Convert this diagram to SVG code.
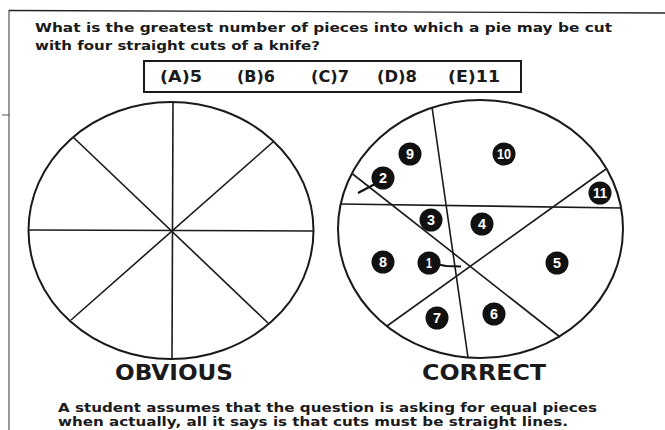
<svg xmlns="http://www.w3.org/2000/svg" width="665" height="430" viewBox="0 0 665 430">
<style>
.t{font-family:"DejaVu Sans","Liberation Sans",Arial,sans-serif;font-weight:bold;fill:#1a1a1a}
.q{font-size:13px}
.opt{font-size:16px}
.cap{font-size:21px}
.body{font-size:13px}
.pie{fill:none;stroke:#1a1a1a;stroke-width:2}
.cut{stroke:#1a1a1a;stroke-width:1.6;fill:none}
.m circle{fill:#111}
.m text{font-family:"Liberation Sans",Arial,sans-serif;font-weight:bold;font-size:14px;fill:#fff;text-anchor:middle}
</style>
<rect width="665" height="430" fill="#fff"/>
<g id="frame">
<line x1="9" y1="10.5" x2="665" y2="13" stroke="#222" stroke-width="1.3"/>
<line x1="9" y1="10" x2="9" y2="430" stroke="#333" stroke-width="1"/>
<line x1="2" y1="115" x2="9" y2="115" stroke="#555" stroke-width="1"/>
</g>
<g id="question">
<text class="t q" x="35" y="32" textLength="577" lengthAdjust="spacingAndGlyphs">What is the greatest number of pieces into which a pie may be cut</text>
<text class="t q" x="35" y="50" textLength="285" lengthAdjust="spacingAndGlyphs">with four straight cuts of a knife?</text>
</g>
<g id="options">
<rect x="144" y="61" width="377" height="31" fill="none" stroke="#1a1a1a" stroke-width="2"/>
<text class="t opt" x="160" y="82" textLength="42" lengthAdjust="spacingAndGlyphs">(A)5</text>
<text class="t opt" x="237" y="82" textLength="38" lengthAdjust="spacingAndGlyphs">(B)6</text>
<text class="t opt" x="311" y="82" textLength="38" lengthAdjust="spacingAndGlyphs">(C)7</text>
<text class="t opt" x="377" y="82" textLength="40" lengthAdjust="spacingAndGlyphs">(D)8</text>
<text class="t opt" x="448" y="82" textLength="52" lengthAdjust="spacingAndGlyphs">(E)11</text>
</g>
<g id="obvious-pie">
<ellipse class="pie" cx="171" cy="230.5" rx="142.5" ry="128.5"/>
<line class="cut" x1="173" y1="102" x2="172" y2="359"/>
<line class="cut" x1="29" y1="230" x2="313" y2="231"/>
<line class="cut" x1="73" y1="137" x2="268" y2="323"/>
<line class="cut" x1="273" y1="142" x2="71" y2="320"/>
</g>
<g id="correct-pie">
<ellipse class="pie" cx="480.5" cy="229" rx="142.5" ry="129"/>
</g>
<g id="connectors">
<line class="cut" x1="432" y1="107" x2="468" y2="357.5"/>
<line class="cut" x1="341" y1="204" x2="622" y2="208"/>
<line class="cut" x1="352" y1="173.5" x2="560" y2="337"/>
<line class="cut" x1="387" y1="326" x2="606" y2="169"/>
<line x1="375" y1="184" x2="358" y2="193" stroke="#111" stroke-width="2.2"/>
<path d="M436 264 L446 266 L461 266.5" stroke="#111" stroke-width="2.2" fill="none"/>
</g>
<g id="m9" class="m"><circle cx="410" cy="154" r="11.5"/><text x="410" y="159" textLength="8" lengthAdjust="spacingAndGlyphs">9</text></g>
<g id="m10" class="m"><circle cx="504" cy="154" r="11.5"/><text x="504" y="159" textLength="14" lengthAdjust="spacingAndGlyphs">10</text></g>
<g id="m2" class="m"><circle cx="383" cy="178" r="11.5"/><text x="383" y="183" textLength="8" lengthAdjust="spacingAndGlyphs">2</text></g>
<g id="m11" class="m"><circle cx="600" cy="193" r="11.5"/><text x="600" y="198" textLength="14" lengthAdjust="spacingAndGlyphs">11</text></g>
<g id="m3" class="m"><circle cx="431" cy="220" r="11.5"/><text x="431" y="225" textLength="8" lengthAdjust="spacingAndGlyphs">3</text></g>
<g id="m4" class="m"><circle cx="482" cy="224" r="11.5"/><text x="482" y="229" textLength="8" lengthAdjust="spacingAndGlyphs">4</text></g>
<g id="m8" class="m"><circle cx="383" cy="262" r="11.5"/><text x="383" y="267" textLength="8" lengthAdjust="spacingAndGlyphs">8</text></g>
<g id="m1" class="m"><circle cx="429" cy="263" r="11.5"/><text x="429" y="268" textLength="6" lengthAdjust="spacingAndGlyphs">1</text></g>
<g id="m5" class="m"><circle cx="557" cy="263" r="11.5"/><text x="557" y="268" textLength="8" lengthAdjust="spacingAndGlyphs">5</text></g>
<g id="m7" class="m"><circle cx="437" cy="318" r="11.5"/><text x="437" y="323" textLength="8" lengthAdjust="spacingAndGlyphs">7</text></g>
<g id="m6" class="m"><circle cx="494" cy="314" r="11.5"/><text x="494" y="319" textLength="8" lengthAdjust="spacingAndGlyphs">6</text></g>
<g id="captions">
<text class="t cap" x="115" y="380" textLength="118" lengthAdjust="spacingAndGlyphs">OBVIOUS</text>
<text class="t cap" x="422" y="380" textLength="124" lengthAdjust="spacingAndGlyphs">CORRECT</text>
</g>
<g id="explanation">
<text class="t body" x="58" y="412" textLength="539" lengthAdjust="spacingAndGlyphs">A student assumes that the question is asking for equal pieces</text>
<text class="t body" x="58" y="426" textLength="510" lengthAdjust="spacingAndGlyphs">when actually, all it says is that cuts must be straight lines.</text>
</g>
</svg>
